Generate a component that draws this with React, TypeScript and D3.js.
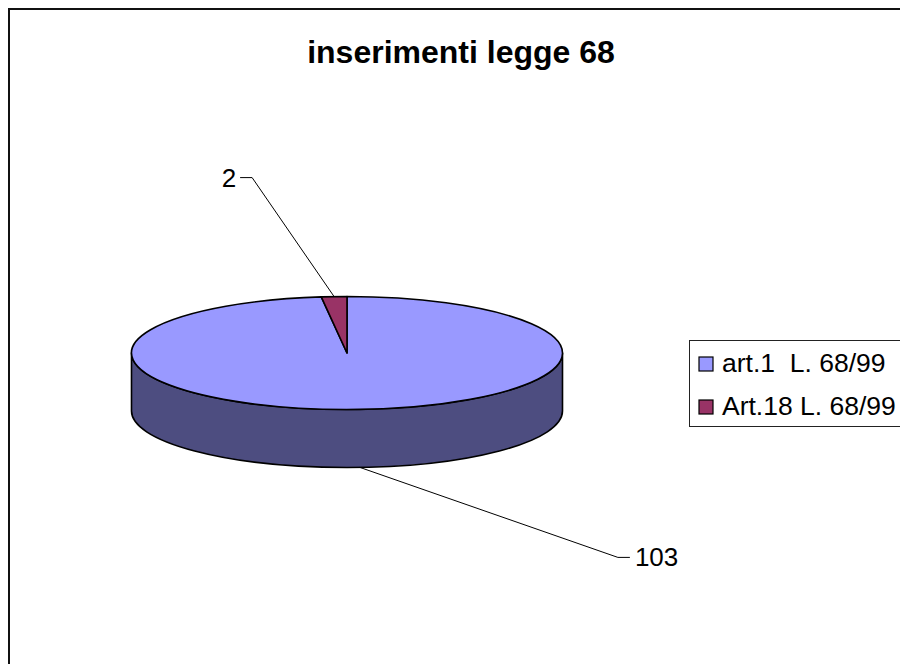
import React from "react";
import * as d3 from "d3";

const categories = ["art.1  L. 68/99", "Art.18 L. 68/99"];
const values = [103, 2];
const topColors = ["#9999FF", "#993366"];
const sideColors = ["#4D4D80", "#4D1A33"];
const title = "inserimenti legge 68";

const W = 900;
const H = 664;
const cx = 347;
const cy = 353;
const rx = 215.5;
const ry = 56.5;
const depth = 58;
const FONT = "'Liberation Sans', Arial, sans-serif";

function pt(a: number, dy = 0): [number, number] {
  return [cx + rx * Math.sin(a), cy - ry * Math.cos(a) + dy];
}

export default function App() {
  const pie = d3
    .pie<number>()
    .sort(null)
    .value((d) => d)
    .startAngle(0)
    .endAngle(2 * Math.PI);
  const arcs = pie(values);

  const sides = arcs.map((a, i) => {
    const s = Math.max(a.startAngle, Math.PI / 2);
    const e = Math.min(a.endAngle, (3 * Math.PI) / 2);
    if (e <= s) return null;
    const p0 = pt(s);
    const p1 = pt(e);
    const large = e - s > Math.PI ? 1 : 0;
    const d = `M${p0[0]},${p0[1]} A${rx},${ry} 0 ${large} 1 ${p1[0]},${p1[1]} L${p1[0]},${p1[1] + depth} A${rx},${ry} 0 ${large} 0 ${p0[0]},${p0[1] + depth} Z`;
    return <path key={"s" + i} d={d} fill={sideColors[i]} stroke="#000" strokeWidth={1.6} strokeLinejoin="round" />;
  });

  const tops = arcs.map((a, i) => {
    const p0 = pt(a.startAngle);
    const p1 = pt(a.endAngle);
    const large = a.endAngle - a.startAngle > Math.PI ? 1 : 0;
    const d = `M${cx},${cy} L${p0[0]},${p0[1]} A${rx},${ry} 0 ${large} 1 ${p1[0]},${p1[1]} Z`;
    return <path key={"t" + i} d={d} fill={topColors[i]} stroke="#000" strokeWidth={1.6} strokeLinejoin="round" />;
  });

  const mid0 = (arcs[0].startAngle + arcs[0].endAngle) / 2;
  const mid1 = (arcs[1].startAngle + arcs[1].endAngle) / 2;
  const a0 = pt(mid0, depth);
  const a1 = pt(mid1);
  const elbow0: [number, number] = [a0[0] + 258, a0[1] + 90];
  const elbow1: [number, number] = [a1[0] - 82, a1[1] - 119];

  return (
    <svg width={W} height={H} style={{ position: "absolute", left: 0, top: 0, background: "#fff" }} fontFamily={FONT}>
      <rect x={0} y={0} width={W} height={H} fill="#fff" />
      <rect x={9} y={9} width={W + 20} height={H + 20} fill="none" stroke="#111" strokeWidth={2} />
      <text x={461} y={63} textAnchor="middle" fontWeight="bold" fontSize={32} fill="#000">
        {title}
      </text>
      {sides}
      {tops}
      <path d={`M${a0[0]},${a0[1]} L${elbow0[0]},${elbow0[1]} L${elbow0[0] + 12},${elbow0[1]}`} fill="none" stroke="#000" strokeWidth={1} />
      <text x={elbow0[0] + 17} y={elbow0[1] + 9} fontSize={26} fill="#000">
        {values[0]}
      </text>
      <path d={`M${a1[0]},${a1[1]} L${elbow1[0]},${elbow1[1]} L${elbow1[0] - 12},${elbow1[1]}`} fill="none" stroke="#000" strokeWidth={1} />
      <text x={elbow1[0] - 16} y={elbow1[1] + 9} textAnchor="end" fontSize={26} fill="#000">
        {values[1]}
      </text>
      <rect x={689.5} y={340.5} width={240} height={86} fill="#fff" stroke="#222" strokeWidth={1} />
      {categories.map((c, i) => (
        <g key={c}>
          <rect x={699} y={357 + i * 43} width={14} height={14} fill={topColors[i]} stroke="#000" strokeWidth={1.2} />
          <text x={722} y={372 + i * 43} fontSize={26.5} fill="#000" style={{ whiteSpace: "pre" }}>
            {c}
          </text>
        </g>
      ))}
    </svg>
  );
}
